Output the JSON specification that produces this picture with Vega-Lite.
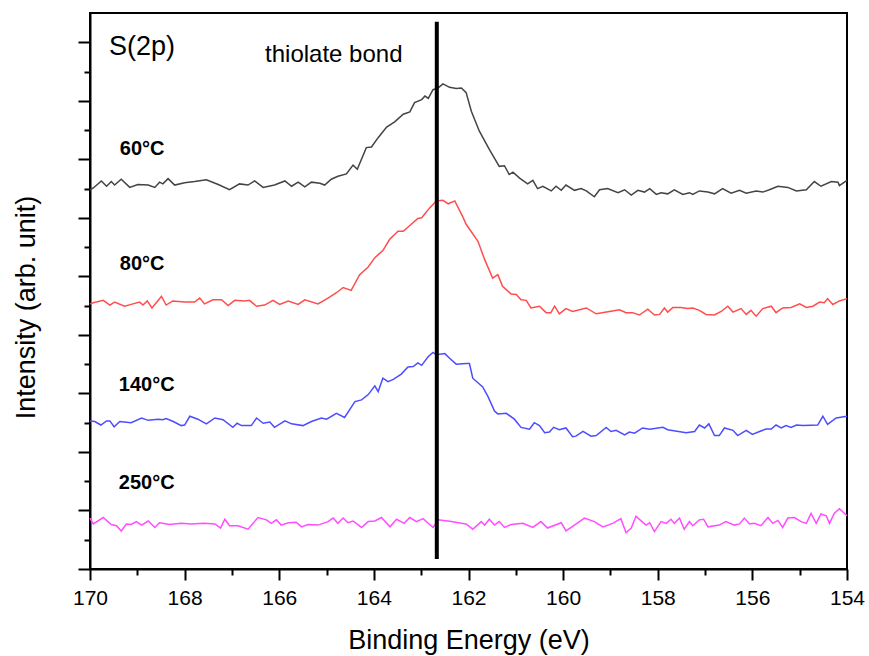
{
  "$schema": "https://vega.github.io/schema/vega-lite/v6.json",
  "width": 757,
  "height": 556,
  "autosize": {"type": "none"},
  "padding": {"left": 90, "top": 13, "right": 22, "bottom": 87},
  "background": "white",
  "config": {
    "font": "Liberation Sans",
    "view": {"stroke": "#000", "strokeWidth": 2},
    "axis": {"grid": false, "domainColor": "#000", "domainWidth": 2, "tickColor": "#000", "tickWidth": 2, "labelColor": "#000", "titleColor": "#000", "titleFontWeight": "normal"}
  },
  "datasets": {
    "spec": [
      {"s":"60°C","e":170.0,"v":6.48},{"s":"60°C","e":169.93,"v":6.51},{"s":"60°C","e":169.76,"v":6.63},{"s":"60°C","e":169.65,"v":6.54},{"s":"60°C","e":169.55,"v":6.62},{"s":"60°C","e":169.48,"v":6.56},{"s":"60°C","e":169.34,"v":6.66},{"s":"60°C","e":169.16,"v":6.52},{"s":"60°C","e":168.99,"v":6.57},{"s":"60°C","e":168.77,"v":6.56},{"s":"60°C","e":168.63,"v":6.52},{"s":"60°C","e":168.53,"v":6.61},{"s":"60°C","e":168.46,"v":6.58},{"s":"60°C","e":168.35,"v":6.67},{"s":"60°C","e":168.21,"v":6.56},{"s":"60°C","e":168.0,"v":6.6},{"s":"60°C","e":167.79,"v":6.62},{"s":"60°C","e":167.54,"v":6.65},{"s":"60°C","e":167.29,"v":6.57},{"s":"60°C","e":167.05,"v":6.48},{"s":"60°C","e":166.84,"v":6.58},{"s":"60°C","e":166.66,"v":6.56},{"s":"60°C","e":166.52,"v":6.63},{"s":"60°C","e":166.34,"v":6.52},{"s":"60°C","e":166.1,"v":6.56},{"s":"60°C","e":165.88,"v":6.63},{"s":"60°C","e":165.74,"v":6.54},{"s":"60°C","e":165.6,"v":6.61},{"s":"60°C","e":165.46,"v":6.53},{"s":"60°C","e":165.32,"v":6.61},{"s":"60°C","e":165.14,"v":6.59},{"s":"60°C","e":165.04,"v":6.56},{"s":"60°C","e":164.9,"v":6.66},{"s":"60°C","e":164.76,"v":6.71},{"s":"60°C","e":164.58,"v":6.75},{"s":"60°C","e":164.44,"v":6.9},{"s":"60°C","e":164.35,"v":6.83},{"s":"60°C","e":164.16,"v":7.2},{"s":"60°C","e":164.05,"v":7.21},{"s":"60°C","e":163.91,"v":7.37},{"s":"60°C","e":163.73,"v":7.55},{"s":"60°C","e":163.56,"v":7.64},{"s":"60°C","e":163.38,"v":7.77},{"s":"60°C","e":163.24,"v":7.81},{"s":"60°C","e":163.14,"v":7.97},{"s":"60°C","e":162.99,"v":8.02},{"s":"60°C","e":162.92,"v":8.08},{"s":"60°C","e":162.85,"v":8.04},{"s":"60°C","e":162.75,"v":8.19},{"s":"60°C","e":162.64,"v":8.22},{"s":"60°C","e":162.54,"v":8.29},{"s":"60°C","e":162.4,"v":8.23},{"s":"60°C","e":162.26,"v":8.21},{"s":"60°C","e":162.15,"v":8.22},{"s":"60°C","e":162.05,"v":8.14},{"s":"60°C","e":161.94,"v":7.82},{"s":"60°C","e":161.77,"v":7.48},{"s":"60°C","e":161.56,"v":7.17},{"s":"60°C","e":161.35,"v":6.88},{"s":"60°C","e":161.24,"v":6.89},{"s":"60°C","e":161.14,"v":6.74},{"s":"60°C","e":161.06,"v":6.78},{"s":"60°C","e":160.92,"v":6.68},{"s":"60°C","e":160.75,"v":6.58},{"s":"60°C","e":160.64,"v":6.64},{"s":"60°C","e":160.54,"v":6.5},{"s":"60°C","e":160.43,"v":6.54},{"s":"60°C","e":160.25,"v":6.46},{"s":"60°C","e":160.15,"v":6.54},{"s":"60°C","e":160.04,"v":6.47},{"s":"60°C","e":159.94,"v":6.56},{"s":"60°C","e":159.76,"v":6.47},{"s":"60°C","e":159.62,"v":6.5},{"s":"60°C","e":159.51,"v":6.46},{"s":"60°C","e":159.34,"v":6.36},{"s":"60°C","e":159.23,"v":6.48},{"s":"60°C","e":159.06,"v":6.5},{"s":"60°C","e":158.84,"v":6.43},{"s":"60°C","e":158.7,"v":6.48},{"s":"60°C","e":158.56,"v":6.39},{"s":"60°C","e":158.42,"v":6.47},{"s":"60°C","e":158.28,"v":6.44},{"s":"60°C","e":158.17,"v":6.5},{"s":"60°C","e":158.03,"v":6.4},{"s":"60°C","e":157.93,"v":6.43},{"s":"60°C","e":157.79,"v":6.41},{"s":"60°C","e":157.65,"v":6.48},{"s":"60°C","e":157.47,"v":6.4},{"s":"60°C","e":157.33,"v":6.43},{"s":"60°C","e":157.26,"v":6.4},{"s":"60°C","e":157.12,"v":6.46},{"s":"60°C","e":156.94,"v":6.44},{"s":"60°C","e":156.8,"v":6.41},{"s":"60°C","e":156.63,"v":6.5},{"s":"60°C","e":156.45,"v":6.42},{"s":"60°C","e":156.27,"v":6.47},{"s":"60°C","e":156.13,"v":6.42},{"s":"60°C","e":155.92,"v":6.46},{"s":"60°C","e":155.78,"v":6.44},{"s":"60°C","e":155.64,"v":6.48},{"s":"60°C","e":155.46,"v":6.54},{"s":"60°C","e":155.25,"v":6.52},{"s":"60°C","e":155.07,"v":6.46},{"s":"60°C","e":154.86,"v":6.48},{"s":"60°C","e":154.69,"v":6.62},{"s":"60°C","e":154.55,"v":6.54},{"s":"60°C","e":154.33,"v":6.62},{"s":"60°C","e":154.19,"v":6.61},{"s":"60°C","e":154.16,"v":6.55},{"s":"60°C","e":154.0,"v":6.64},
      {"s":"80°C","e":170.0,"v":4.53},{"s":"80°C","e":169.93,"v":4.55},{"s":"80°C","e":169.72,"v":4.59},{"s":"80°C","e":169.58,"v":4.51},{"s":"80°C","e":169.48,"v":4.56},{"s":"80°C","e":169.27,"v":4.49},{"s":"80°C","e":169.09,"v":4.53},{"s":"80°C","e":168.95,"v":4.56},{"s":"80°C","e":168.88,"v":4.51},{"s":"80°C","e":168.79,"v":4.58},{"s":"80°C","e":168.69,"v":4.46},{"s":"80°C","e":168.6,"v":4.55},{"s":"80°C","e":168.49,"v":4.66},{"s":"80°C","e":168.39,"v":4.51},{"s":"80°C","e":168.25,"v":4.58},{"s":"80°C","e":168.0,"v":4.56},{"s":"80°C","e":167.79,"v":4.56},{"s":"80°C","e":167.68,"v":4.63},{"s":"80°C","e":167.58,"v":4.53},{"s":"80°C","e":167.4,"v":4.6},{"s":"80°C","e":167.22,"v":4.6},{"s":"80°C","e":167.08,"v":4.5},{"s":"80°C","e":166.94,"v":4.59},{"s":"80°C","e":166.73,"v":4.58},{"s":"80°C","e":166.63,"v":4.59},{"s":"80°C","e":166.48,"v":4.49},{"s":"80°C","e":166.31,"v":4.51},{"s":"80°C","e":166.13,"v":4.59},{"s":"80°C","e":165.99,"v":4.52},{"s":"80°C","e":165.81,"v":4.58},{"s":"80°C","e":165.6,"v":4.52},{"s":"80°C","e":165.46,"v":4.6},{"s":"80°C","e":165.18,"v":4.53},{"s":"80°C","e":164.97,"v":4.63},{"s":"80°C","e":164.79,"v":4.72},{"s":"80°C","e":164.65,"v":4.81},{"s":"80°C","e":164.48,"v":4.76},{"s":"80°C","e":164.3,"v":5.03},{"s":"80°C","e":164.12,"v":5.16},{"s":"80°C","e":163.98,"v":5.32},{"s":"80°C","e":163.81,"v":5.44},{"s":"80°C","e":163.67,"v":5.63},{"s":"80°C","e":163.49,"v":5.77},{"s":"80°C","e":163.38,"v":5.77},{"s":"80°C","e":163.24,"v":5.87},{"s":"80°C","e":163.07,"v":5.99},{"s":"80°C","e":162.99,"v":6.0},{"s":"80°C","e":162.82,"v":6.17},{"s":"80°C","e":162.68,"v":6.29},{"s":"80°C","e":162.54,"v":6.3},{"s":"80°C","e":162.43,"v":6.24},{"s":"80°C","e":162.29,"v":6.29},{"s":"80°C","e":162.11,"v":6.0},{"s":"80°C","e":162.05,"v":5.89},{"s":"80°C","e":161.8,"v":5.6},{"s":"80°C","e":161.66,"v":5.29},{"s":"80°C","e":161.49,"v":4.97},{"s":"80°C","e":161.38,"v":5.03},{"s":"80°C","e":161.28,"v":4.83},{"s":"80°C","e":161.1,"v":4.7},{"s":"80°C","e":160.99,"v":4.69},{"s":"80°C","e":160.89,"v":4.6},{"s":"80°C","e":160.78,"v":4.59},{"s":"80°C","e":160.68,"v":4.46},{"s":"80°C","e":160.5,"v":4.49},{"s":"80°C","e":160.36,"v":4.38},{"s":"80°C","e":160.26,"v":4.38},{"s":"80°C","e":160.18,"v":4.49},{"s":"80°C","e":160.08,"v":4.36},{"s":"80°C","e":159.94,"v":4.45},{"s":"80°C","e":159.8,"v":4.4},{"s":"80°C","e":159.51,"v":4.46},{"s":"80°C","e":159.3,"v":4.36},{"s":"80°C","e":159.02,"v":4.4},{"s":"80°C","e":158.81,"v":4.43},{"s":"80°C","e":158.67,"v":4.38},{"s":"80°C","e":158.53,"v":4.38},{"s":"80°C","e":158.39,"v":4.34},{"s":"80°C","e":158.21,"v":4.44},{"s":"80°C","e":158.07,"v":4.34},{"s":"80°C","e":157.96,"v":4.35},{"s":"80°C","e":157.86,"v":4.46},{"s":"80°C","e":157.79,"v":4.39},{"s":"80°C","e":157.68,"v":4.47},{"s":"80°C","e":157.51,"v":4.47},{"s":"80°C","e":157.37,"v":4.45},{"s":"80°C","e":157.26,"v":4.46},{"s":"80°C","e":157.12,"v":4.42},{"s":"80°C","e":156.98,"v":4.35},{"s":"80°C","e":156.8,"v":4.34},{"s":"80°C","e":156.66,"v":4.4},{"s":"80°C","e":156.52,"v":4.49},{"s":"80°C","e":156.41,"v":4.39},{"s":"80°C","e":156.24,"v":4.45},{"s":"80°C","e":156.13,"v":4.35},{"s":"80°C","e":156.03,"v":4.42},{"s":"80°C","e":155.92,"v":4.32},{"s":"80°C","e":155.78,"v":4.45},{"s":"80°C","e":155.6,"v":4.49},{"s":"80°C","e":155.5,"v":4.38},{"s":"80°C","e":155.36,"v":4.46},{"s":"80°C","e":155.18,"v":4.47},{"s":"80°C","e":155.0,"v":4.53},{"s":"80°C","e":154.86,"v":4.47},{"s":"80°C","e":154.72,"v":4.49},{"s":"80°C","e":154.58,"v":4.56},{"s":"80°C","e":154.48,"v":4.55},{"s":"80°C","e":154.41,"v":4.62},{"s":"80°C","e":154.3,"v":4.52},{"s":"80°C","e":154.16,"v":4.58},{"s":"80°C","e":154.0,"v":4.62},
      {"s":"140°C","e":170.0,"v":2.53},{"s":"140°C","e":169.9,"v":2.52},{"s":"140°C","e":169.77,"v":2.46},{"s":"140°C","e":169.65,"v":2.53},{"s":"140°C","e":169.58,"v":2.53},{"s":"140°C","e":169.49,"v":2.43},{"s":"140°C","e":169.37,"v":2.52},{"s":"140°C","e":169.13,"v":2.5},{"s":"140°C","e":168.91,"v":2.58},{"s":"140°C","e":168.77,"v":2.54},{"s":"140°C","e":168.56,"v":2.56},{"s":"140°C","e":168.46,"v":2.55},{"s":"140°C","e":168.39,"v":2.57},{"s":"140°C","e":168.24,"v":2.52},{"s":"140°C","e":168.07,"v":2.45},{"s":"140°C","e":168.0,"v":2.46},{"s":"140°C","e":167.89,"v":2.61},{"s":"140°C","e":167.72,"v":2.56},{"s":"140°C","e":167.54,"v":2.48},{"s":"140°C","e":167.36,"v":2.58},{"s":"140°C","e":167.19,"v":2.55},{"s":"140°C","e":166.98,"v":2.42},{"s":"140°C","e":166.89,"v":2.49},{"s":"140°C","e":166.8,"v":2.45},{"s":"140°C","e":166.59,"v":2.45},{"s":"140°C","e":166.48,"v":2.58},{"s":"140°C","e":166.34,"v":2.49},{"s":"140°C","e":166.2,"v":2.51},{"s":"140°C","e":166.1,"v":2.42},{"s":"140°C","e":165.88,"v":2.53},{"s":"140°C","e":165.74,"v":2.48},{"s":"140°C","e":165.5,"v":2.45},{"s":"140°C","e":165.32,"v":2.52},{"s":"140°C","e":165.11,"v":2.58},{"s":"140°C","e":165.0,"v":2.56},{"s":"140°C","e":164.79,"v":2.66},{"s":"140°C","e":164.62,"v":2.59},{"s":"140°C","e":164.4,"v":2.86},{"s":"140°C","e":164.26,"v":2.89},{"s":"140°C","e":164.12,"v":2.98},{"s":"140°C","e":163.98,"v":3.13},{"s":"140°C","e":163.91,"v":3.03},{"s":"140°C","e":163.81,"v":3.26},{"s":"140°C","e":163.7,"v":3.2},{"s":"140°C","e":163.59,"v":3.24},{"s":"140°C","e":163.42,"v":3.33},{"s":"140°C","e":163.28,"v":3.45},{"s":"140°C","e":163.17,"v":3.46},{"s":"140°C","e":163.07,"v":3.52},{"s":"140°C","e":162.99,"v":3.48},{"s":"140°C","e":162.85,"v":3.63},{"s":"140°C","e":162.75,"v":3.7},{"s":"140°C","e":162.68,"v":3.66},{"s":"140°C","e":162.5,"v":3.68},{"s":"140°C","e":162.4,"v":3.6},{"s":"140°C","e":162.26,"v":3.5},{"s":"140°C","e":162.05,"v":3.51},{"s":"140°C","e":161.98,"v":3.51},{"s":"140°C","e":161.91,"v":3.26},{"s":"140°C","e":161.7,"v":3.11},{"s":"140°C","e":161.59,"v":2.95},{"s":"140°C","e":161.45,"v":2.7},{"s":"140°C","e":161.38,"v":2.65},{"s":"140°C","e":161.2,"v":2.66},{"s":"140°C","e":161.03,"v":2.56},{"s":"140°C","e":160.89,"v":2.42},{"s":"140°C","e":160.71,"v":2.39},{"s":"140°C","e":160.61,"v":2.5},{"s":"140°C","e":160.5,"v":2.45},{"s":"140°C","e":160.39,"v":2.33},{"s":"140°C","e":160.29,"v":2.34},{"s":"140°C","e":160.2,"v":2.42},{"s":"140°C","e":160.08,"v":2.38},{"s":"140°C","e":159.94,"v":2.41},{"s":"140°C","e":159.8,"v":2.26},{"s":"140°C","e":159.73,"v":2.27},{"s":"140°C","e":159.58,"v":2.35},{"s":"140°C","e":159.41,"v":2.27},{"s":"140°C","e":159.3,"v":2.28},{"s":"140°C","e":159.09,"v":2.42},{"s":"140°C","e":158.99,"v":2.35},{"s":"140°C","e":158.88,"v":2.37},{"s":"140°C","e":158.7,"v":2.29},{"s":"140°C","e":158.6,"v":2.34},{"s":"140°C","e":158.49,"v":2.32},{"s":"140°C","e":158.32,"v":2.41},{"s":"140°C","e":158.17,"v":2.39},{"s":"140°C","e":157.89,"v":2.42},{"s":"140°C","e":157.79,"v":2.38},{"s":"140°C","e":157.4,"v":2.33},{"s":"140°C","e":157.22,"v":2.35},{"s":"140°C","e":157.12,"v":2.46},{"s":"140°C","e":157.01,"v":2.41},{"s":"140°C","e":156.92,"v":2.48},{"s":"140°C","e":156.8,"v":2.28},{"s":"140°C","e":156.7,"v":2.28},{"s":"140°C","e":156.59,"v":2.41},{"s":"140°C","e":156.41,"v":2.37},{"s":"140°C","e":156.31,"v":2.28},{"s":"140°C","e":156.13,"v":2.37},{"s":"140°C","e":156.0,"v":2.3},{"s":"140°C","e":155.85,"v":2.35},{"s":"140°C","e":155.71,"v":2.39},{"s":"140°C","e":155.6,"v":2.39},{"s":"140°C","e":155.5,"v":2.46},{"s":"140°C","e":155.39,"v":2.41},{"s":"140°C","e":155.29,"v":2.45},{"s":"140°C","e":155.18,"v":2.42},{"s":"140°C","e":155.07,"v":2.46},{"s":"140°C","e":154.93,"v":2.45},{"s":"140°C","e":154.62,"v":2.46},{"s":"140°C","e":154.51,"v":2.61},{"s":"140°C","e":154.41,"v":2.47},{"s":"140°C","e":154.23,"v":2.58},{"s":"140°C","e":154.0,"v":2.61},
      {"s":"250°C","e":170.0,"v":0.87},{"s":"250°C","e":169.93,"v":0.77},{"s":"250°C","e":169.72,"v":0.88},{"s":"250°C","e":169.55,"v":0.76},{"s":"250°C","e":169.44,"v":0.74},{"s":"250°C","e":169.34,"v":0.65},{"s":"250°C","e":169.23,"v":0.77},{"s":"250°C","e":169.13,"v":0.76},{"s":"250°C","e":169.02,"v":0.81},{"s":"250°C","e":168.91,"v":0.75},{"s":"250°C","e":168.77,"v":0.82},{"s":"250°C","e":168.63,"v":0.71},{"s":"250°C","e":168.53,"v":0.79},{"s":"250°C","e":168.32,"v":0.76},{"s":"250°C","e":168.07,"v":0.78},{"s":"250°C","e":167.86,"v":0.77},{"s":"250°C","e":167.58,"v":0.78},{"s":"250°C","e":167.36,"v":0.77},{"s":"250°C","e":167.24,"v":0.7},{"s":"250°C","e":167.15,"v":0.85},{"s":"250°C","e":167.05,"v":0.74},{"s":"250°C","e":166.87,"v":0.74},{"s":"250°C","e":166.66,"v":0.68},{"s":"250°C","e":166.45,"v":0.88},{"s":"250°C","e":166.27,"v":0.84},{"s":"250°C","e":166.17,"v":0.78},{"s":"250°C","e":166.06,"v":0.84},{"s":"250°C","e":165.96,"v":0.75},{"s":"250°C","e":165.81,"v":0.79},{"s":"250°C","e":165.64,"v":0.8},{"s":"250°C","e":165.53,"v":0.72},{"s":"250°C","e":165.39,"v":0.76},{"s":"250°C","e":165.18,"v":0.75},{"s":"250°C","e":164.97,"v":0.81},{"s":"250°C","e":164.86,"v":0.87},{"s":"250°C","e":164.76,"v":0.78},{"s":"250°C","e":164.65,"v":0.87},{"s":"250°C","e":164.55,"v":0.79},{"s":"250°C","e":164.44,"v":0.82},{"s":"250°C","e":164.26,"v":0.71},{"s":"250°C","e":164.12,"v":0.81},{"s":"250°C","e":163.98,"v":0.82},{"s":"250°C","e":163.84,"v":0.88},{"s":"250°C","e":163.66,"v":0.72},{"s":"250°C","e":163.52,"v":0.85},{"s":"250°C","e":163.36,"v":0.78},{"s":"250°C","e":163.24,"v":0.88},{"s":"250°C","e":163.1,"v":0.81},{"s":"250°C","e":162.96,"v":0.86},{"s":"250°C","e":162.75,"v":0.71},{"s":"250°C","e":162.64,"v":0.84},{"s":"250°C","e":162.36,"v":0.81},{"s":"250°C","e":162.15,"v":0.78},{"s":"250°C","e":162.05,"v":0.77},{"s":"250°C","e":161.91,"v":0.68},{"s":"250°C","e":161.73,"v":0.81},{"s":"250°C","e":161.66,"v":0.75},{"s":"250°C","e":161.56,"v":0.85},{"s":"250°C","e":161.45,"v":0.75},{"s":"250°C","e":161.35,"v":0.81},{"s":"250°C","e":161.24,"v":0.71},{"s":"250°C","e":161.1,"v":0.76},{"s":"250°C","e":160.85,"v":0.78},{"s":"250°C","e":160.64,"v":0.71},{"s":"250°C","e":160.47,"v":0.81},{"s":"250°C","e":160.33,"v":0.7},{"s":"250°C","e":160.04,"v":0.79},{"s":"250°C","e":159.94,"v":0.65},{"s":"250°C","e":159.76,"v":0.75},{"s":"250°C","e":159.55,"v":0.87},{"s":"250°C","e":159.34,"v":0.81},{"s":"250°C","e":159.16,"v":0.72},{"s":"250°C","e":158.95,"v":0.78},{"s":"250°C","e":158.78,"v":0.86},{"s":"250°C","e":158.67,"v":0.62},{"s":"250°C","e":158.56,"v":0.7},{"s":"250°C","e":158.46,"v":0.9},{"s":"250°C","e":158.25,"v":0.75},{"s":"250°C","e":158.17,"v":0.79},{"s":"250°C","e":158.07,"v":0.64},{"s":"250°C","e":157.93,"v":0.81},{"s":"250°C","e":157.82,"v":0.78},{"s":"250°C","e":157.72,"v":0.85},{"s":"250°C","e":157.65,"v":0.78},{"s":"250°C","e":157.54,"v":0.87},{"s":"250°C","e":157.44,"v":0.68},{"s":"250°C","e":157.33,"v":0.81},{"s":"250°C","e":157.26,"v":0.74},{"s":"250°C","e":157.12,"v":0.84},{"s":"250°C","e":157.03,"v":0.85},{"s":"250°C","e":156.94,"v":0.72},{"s":"250°C","e":156.7,"v":0.75},{"s":"250°C","e":156.56,"v":0.81},{"s":"250°C","e":156.38,"v":0.75},{"s":"250°C","e":156.27,"v":0.77},{"s":"250°C","e":156.17,"v":0.87},{"s":"250°C","e":156.06,"v":0.77},{"s":"250°C","e":155.96,"v":0.78},{"s":"250°C","e":155.82,"v":0.74},{"s":"250°C","e":155.67,"v":0.88},{"s":"250°C","e":155.57,"v":0.78},{"s":"250°C","e":155.46,"v":0.83},{"s":"250°C","e":155.36,"v":0.71},{"s":"250°C","e":155.25,"v":0.87},{"s":"250°C","e":155.11,"v":0.88},{"s":"250°C","e":154.97,"v":0.81},{"s":"250°C","e":154.86,"v":0.78},{"s":"250°C","e":154.76,"v":0.95},{"s":"250°C","e":154.65,"v":0.78},{"s":"250°C","e":154.55,"v":0.94},{"s":"250°C","e":154.44,"v":0.91},{"s":"250°C","e":154.37,"v":0.78},{"s":"250°C","e":154.27,"v":0.95},{"s":"250°C","e":154.16,"v":1.03},{"s":"250°C","e":154.0,"v":0.91}
    ],
    "temps": [
      {"t":"60°C","e":169.37,"v":7.08},
      {"t":"80°C","e":169.37,"v":5.11},
      {"t":"140°C","e":169.39,"v":3.04},
      {"t":"250°C","e":169.39,"v":1.37}
    ],
    "title": [{"t":"S(2p)","e":169.6,"v":8.79}],
    "note": [{"t":"thiolate bond","e":166.3,"v":8.67}],
    "bond": [{"e":162.67,"v0":0.17,"v1":9.35}]
  },
  "resolve": {"axis": {"x": "independent", "y": "independent"}},
  "layer": [
    {
      "data": {"name": "spec"},
      "mark": {"type": "line", "strokeWidth": 1.5},
      "encoding": {
        "x": {"field": "e", "type": "quantitative",
              "scale": {"domain": [154, 170], "reverse": true, "nice": false, "zero": false},
              "axis": {"orient": "bottom", "values": [170,168,166,164,162,160,158,156,154], "format": "d", "tickSize": 11, "labelFontSize": 21, "labelPadding": 7, "title": "Binding Energy (eV)", "titleFontSize": 27, "titlePadding": 19, "labelFlush": false, "labelOverlap": false}},
        "y": {"field": "v", "type": "quantitative",
              "scale": {"domain": [0, 9.5], "nice": false, "zero": false},
              "axis": {"orient": "left", "values": [0,1,2,3,4,5,6,7,8,9], "labels": false, "tickSize": 12, "title": "Intensity (arb. unit)", "titleFontSize": 27, "titlePadding": 37, "titleY": 294}},
        "color": {"field": "s", "type": "nominal",
                  "scale": {"domain": ["60°C","80°C","140°C","250°C"], "range": ["#444444","#ff4d4d","#4d4dff","#ff4dff"]},
                  "legend": null}
      }
    },
    {
      "data": {"name": "bond"},
      "mark": {"type": "rule", "strokeWidth": 4, "color": "#000"},
      "encoding": {
        "x": {"field": "e", "type": "quantitative",
              "axis": {"orient": "bottom", "values": [169,167,165,163,161,159,157,155], "labels": false, "domain": false, "tickSize": 6, "title": null}},
        "y": {"field": "v0", "type": "quantitative",
              "axis": {"orient": "left", "values": [0.5,1.5,2.5,3.5,4.5,5.5,6.5,7.5,8.5], "labels": false, "domain": false, "tickSize": 6, "title": null}},
        "y2": {"field": "v1"}
      }
    },
    {
      "data": {"name": "temps"},
      "mark": {"type": "text", "align": "left", "baseline": "alphabetic", "fontSize": 20, "fontWeight": "bold", "color": "#000"},
      "encoding": {
        "x": {"field": "e", "type": "quantitative", "axis": null},
        "y": {"field": "v", "type": "quantitative", "axis": null},
        "text": {"field": "t"}
      }
    },
    {
      "data": {"name": "title"},
      "mark": {"type": "text", "align": "left", "baseline": "alphabetic", "fontSize": 27, "color": "#000"},
      "encoding": {
        "x": {"field": "e", "type": "quantitative", "axis": null},
        "y": {"field": "v", "type": "quantitative", "axis": null},
        "text": {"field": "t"}
      }
    },
    {
      "data": {"name": "note"},
      "mark": {"type": "text", "align": "left", "baseline": "alphabetic", "fontSize": 24, "color": "#000"},
      "encoding": {
        "x": {"field": "e", "type": "quantitative", "axis": null},
        "y": {"field": "v", "type": "quantitative", "axis": null},
        "text": {"field": "t"}
      }
    }
  ]
}
